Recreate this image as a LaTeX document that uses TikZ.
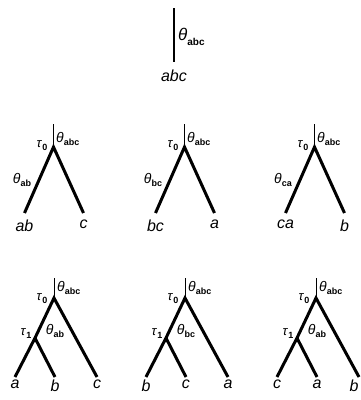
\documentclass[tikz,border=0pt]{standalone}
\usepackage{fontspec}
\setmainfont{Liberation Sans}
\usepackage{tikz}
\usetikzlibrary{calc}

\newcommand{\leaffont}{\fontsize{16}{16}\selectfont\itshape}
\newcommand{\thsub}[1]{\fontsize{14}{14}\selectfont\textit{θ}\raisebox{-0.45ex}{\fontsize{9}{9}\selectfont\bfseries #1}}
\newcommand{\tausub}[1]{\fontsize{13}{13}\selectfont\textit{τ}\raisebox{-0.45ex}{\fontsize{9}{9}\selectfont\bfseries #1}}

\begin{document}
\begin{tikzpicture}[x = 1pt, y = -1pt, inner sep = 0pt,
		stem/.style = {line width = 1pt},
		branch/.style = {line width = 3pt},
		leaf/.style = {anchor = north, font = \leaffont}]
						\useasboundingbox (0, 0) rectangle (361, 400);
						% single population
						\coordinate (t0) at (174, 8);
						\coordinate (t1) at (174, 62);
						\draw[line width = 2pt] (t0) -- (t1);
							\node[anchor = west] (tth) at (178, 37) {\fontsize{17}{17}\selectfont\textit{θ}\raisebox{-0.5ex}{\fontsize{10}{10}\selectfont\bfseries abc}};
							\node[leaf] (tab) at (t1) [yshift = -8pt] {abc};
						% one split
						\begin{scope}[shift = {(0, 0)}]
						\coordinate (m1s) at (53.5, 124);
						\coordinate (m1r) at (53.5, 147);
						\coordinate (m1a) at (24.5, 213);
						\coordinate (m1b) at (83.5, 213);
						\draw[stem] (m1s) -- (m1r);
						\draw[branch] (m1a) -- (m1r) -- (m1b);
							\node[anchor = west] (m1th) at (56, 139) {\thsub{abc}};
							\node (m1tau) at (42, 146) {\tausub{0}};
							\node (m1tl) at (22, 180) {\thsub{ab}};
							\node[leaf] (m1la) at ($(m1a) + (0, 7)$) {ab};
							\node[leaf] (m1lb) at ($(m1b) + (0, 7)$) {c};
						\end{scope}
						\begin{scope}[shift = {(131, 0)}]
						\coordinate (m2s) at (53.5, 124);
						\coordinate (m2r) at (53.5, 147);
						\coordinate (m2a) at (24.5, 213);
						\coordinate (m2b) at (83.5, 213);
						\draw[stem] (m2s) -- (m2r);
						\draw[branch] (m2a) -- (m2r) -- (m2b);
							\node[anchor = west] (m2th) at (56, 139) {\thsub{abc}};
							\node (m2tau) at (42, 146) {\tausub{0}};
							\node (m2tl) at (22, 180) {\thsub{bc}};
							\node[leaf] (m2la) at ($(m2a) + (0, 7)$) {bc};
							\node[leaf] (m2lb) at ($(m2b) + (0, 7)$) {a};
						\end{scope}
						\begin{scope}[shift = {(261, 0)}]
						\coordinate (m3s) at (53.5, 124);
						\coordinate (m3r) at (53.5, 147);
						\coordinate (m3a) at (24.5, 213);
						\coordinate (m3b) at (83.5, 213);
						\draw[stem] (m3s) -- (m3r);
						\draw[branch] (m3a) -- (m3r) -- (m3b);
							\node[anchor = west] (m3th) at (56, 139) {\thsub{abc}};
							\node (m3tau) at (42, 146) {\tausub{0}};
							\node (m3tl) at (22, 180) {\thsub{ca}};
							\node[leaf] (m3la) at ($(m3a) + (0, 7)$) {ca};
							\node[leaf] (m3lb) at ($(m3b) + (0, 7)$) {b};
						\end{scope}
						% two splits
						\begin{scope}[shift = {(0, 0)}]
						\coordinate (b1s) at (54, 278);
						\coordinate (b1r) at (54, 298);
						\coordinate (b1i) at (35, 338);
						\coordinate (b1a) at (15, 377);
						\coordinate (b1b) at (55, 377);
						\coordinate (b1c) at (97, 377);
						\draw[stem] (b1s) -- (b1r);
						\draw[branch] (b1a) -- (b1i) -- (b1r) -- (b1c);
						\draw[branch] (b1i) -- (b1b);
							\node[anchor = west] (b1th) at (57, 288) {\thsub{abc}};
							\node (b1t0) at (42, 299) {\tausub{0}};
							\node (b1t1) at (26, 334) {\tausub{1}};
							\node (b1tl) at (55, 331) {\thsub{ab}};
							\node[leaf] (b1la) at ($(b1a) + (0, 3)$) {a};
							\node[leaf] (b1lb) at ($(b1b) + (0, 3)$) {b};
							\node[leaf] (b1lc) at ($(b1c) + (0, 3)$) {c};
						\end{scope}
						\begin{scope}[shift = {(131, 0)}]
						\coordinate (b2s) at (54, 278);
						\coordinate (b2r) at (54, 298);
						\coordinate (b2i) at (35, 338);
						\coordinate (b2a) at (15, 377);
						\coordinate (b2b) at (55, 377);
						\coordinate (b2c) at (97, 377);
						\draw[stem] (b2s) -- (b2r);
						\draw[branch] (b2a) -- (b2i) -- (b2r) -- (b2c);
						\draw[branch] (b2i) -- (b2b);
							\node[anchor = west] (b2th) at (57, 288) {\thsub{abc}};
							\node (b2t0) at (42, 299) {\tausub{0}};
							\node (b2t1) at (26, 334) {\tausub{1}};
							\node (b2tl) at (55, 331) {\thsub{bc}};
							\node[leaf] (b2la) at ($(b2a) + (0, 3)$) {b};
							\node[leaf] (b2lb) at ($(b2b) + (0, 3)$) {c};
							\node[leaf] (b2lc) at ($(b2c) + (0, 3)$) {a};
						\end{scope}
						\begin{scope}[shift = {(262, 0)}]
						\coordinate (b3s) at (54, 278);
						\coordinate (b3r) at (54, 298);
						\coordinate (b3i) at (35, 338);
						\coordinate (b3a) at (15, 377);
						\coordinate (b3b) at (55, 377);
						\coordinate (b3c) at (97, 377);
						\draw[stem] (b3s) -- (b3r);
						\draw[branch] (b3a) -- (b3i) -- (b3r) -- (b3c);
						\draw[branch] (b3i) -- (b3b);
							\node[anchor = west] (b3th) at (57, 288) {\thsub{abc}};
							\node (b3t0) at (42, 299) {\tausub{0}};
							\node (b3t1) at (26, 334) {\tausub{1}};
							\node (b3tl) at (55, 331) {\thsub{ab}};
							\node[leaf] (b3la) at ($(b3a) + (0, 3)$) {c};
							\node[leaf] (b3lb) at ($(b3b) + (0, 3)$) {a};
							\node[leaf] (b3lc) at ($(b3c) + (-5, 3)$) {b};
						\end{scope}
					\end{tikzpicture}
\end{document}
